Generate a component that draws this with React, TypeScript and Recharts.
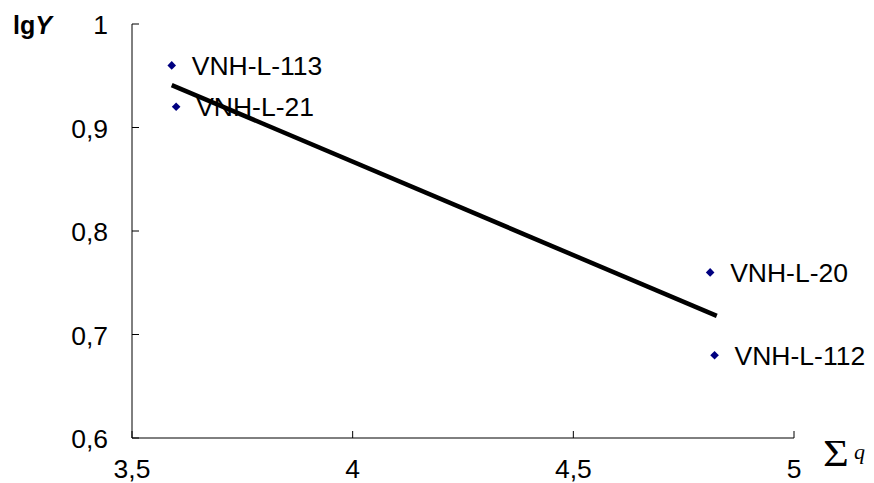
import React from 'react';
import { ScatterChart, Scatter, XAxis, YAxis, LabelList } from 'recharts';

const sampleNames = ['VNH-L-113', 'VNH-L-21', 'VNH-L-20', 'VNH-L-112'];
const sumQ = [3.59, 3.6, 4.81, 4.82];
const lgY = [0.96, 0.92, 0.76, 0.68];
const trendX = [3.59, 4.825];
const trendY = [0.941, 0.718];
const xTicks = [3.5, 4, 4.5, 5];
const yTicks = [0.6, 0.7, 0.8, 0.9, 1];

const points = sampleNames.map((name, i) => ({ x: sumQ[i], y: lgY[i], name }));
const trend = trendX.map((x, i) => ({ x, y: trendY[i] }));

const FONT = '"Liberation Sans", Arial, sans-serif';
const fmt = (v: number) => String(v).replace('.', ',');

const Diamond = (props: any) => {
  const { cx, cy } = props;
  const r = 4.3;
  return <polygon points={`${cx},${cy - r} ${cx + r},${cy} ${cx},${cy + r} ${cx - r},${cy}`} fill="#000080" />;
};

const YTick = (props: any) => {
  const { x, y, payload } = props;
  return (
    <g>
      <line x1={x} y1={y} x2={x + 7} y2={y} stroke="#000" strokeWidth={1} />
      <text x={x - 24} y={y + 10} textAnchor="end" fontSize={26.5} fontFamily={FONT} fill="#000">
        {fmt(payload.value)}
      </text>
    </g>
  );
};

const XTick = (props: any) => {
  const { x, y, payload } = props;
  return (
    <g>
      <line x1={x} y1={y} x2={x} y2={y - 7} stroke="#000" strokeWidth={1} />
      <text x={x} y={y + 40} textAnchor="middle" fontSize={26.5} fontFamily={FONT} fill="#000">
        {fmt(payload.value)}
      </text>
    </g>
  );
};

const NameLabel = (props: any) => {
  const { x, y, width, height, value } = props;
  const cx = x + (width || 0) / 2;
  const cy = y + (height || 0) / 2;
  return (
    <text x={cx + 20} y={cy + 9.5} fontSize={26.5} fontFamily={FONT} fill="#000">
      {value}
    </text>
  );
};

export default function App() {
  return (
    <div style={{ position: 'absolute', left: 0, top: 0, width: 874, height: 483, background: '#fff' }}>
      <ScatterChart width={874} height={483} margin={{ top: 24, right: 80, bottom: 0, left: 32 }}>
        <XAxis
          type="number"
          dataKey="x"
          domain={[3.5, 5]}
          ticks={xTicks}
          tick={<XTick />}
          tickLine={false}
          tickSize={0}
          tickMargin={0}
          height={45}
          axisLine={{ stroke: '#000' }}
          allowDataOverflow
        />
        <YAxis
          type="number"
          dataKey="y"
          domain={[0.6, 1]}
          ticks={yTicks}
          tick={<YTick />}
          tickLine={false}
          tickSize={0}
          tickMargin={0}
          width={100}
          axisLine={{ stroke: '#000' }}
          allowDataOverflow
        />
        <Scatter
          data={trend}
          line={{ stroke: '#000', strokeWidth: 4.5 }}
          shape={() => null}
          isAnimationActive={false}
        />
        <Scatter data={points} shape={<Diamond />} isAnimationActive={false}>
          <LabelList dataKey="name" content={<NameLabel />} />
        </Scatter>
      </ScatterChart>
      <svg width={874} height={483} style={{ position: 'absolute', left: 0, top: 0, pointerEvents: 'none' }}>
        <text x={13} y={34} fontFamily={FONT} fontWeight="bold" fontSize={25} fill="#000">
          lg<tspan fontStyle="italic">Y</tspan>
        </text>
        <g transform="translate(823,466) scale(1.2,1)">
          <text x={0} y={0} fontFamily='"Liberation Serif", "DejaVu Serif", serif' fontSize={37} fill="#000">
            Σ
          </text>
        </g>
        <text x={854} y={459} fontFamily='"Liberation Serif", "DejaVu Serif", serif' fontStyle="italic" fontSize={22} fill="#000">
          q
        </text>
      </svg>
    </div>
  );
}
